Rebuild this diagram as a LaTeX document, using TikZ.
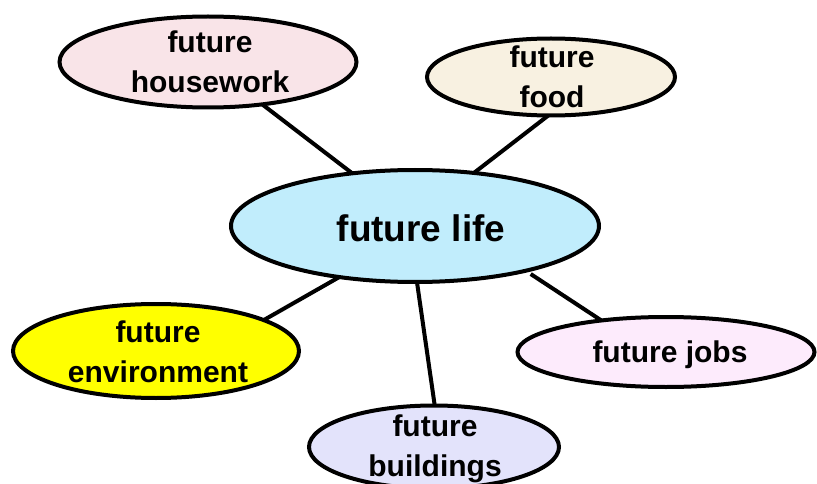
\documentclass[tikz,border=0pt]{standalone}
\usepackage{fontspec}
\setmainfont{Liberation Sans}
\usetikzlibrary{shapes.geometric}
\definecolor{cHw}{HTML}{F9E4E8}
\definecolor{cFood}{HTML}{F8F1E1}
\definecolor{cLife}{HTML}{C1EDFC}
\definecolor{cEnv}{HTML}{FFFF00}
\definecolor{cJobs}{HTML}{FDEBFC}
\definecolor{cBld}{HTML}{E3E3FB}
\begin{document}
\begin{tikzpicture}[x=1pt,y=-1pt,
  bub/.style={ellipse,draw=black,line width=4pt,inner sep=0pt,outer sep=0pt},
  lbl/.style={font=\fontsize{30}{40}\selectfont\bfseries,align=center,inner sep=0pt},
  link/.style={line width=4pt}]
\useasboundingbox (0,0) rectangle (817,484);
\clip (0,0) rectangle (817,484);
\fill[white] (0,0) rectangle (817,484);
\node[bub,fill=cLife,minimum width=368pt,minimum height=112pt] (c) at (415,226) {};
\node[bub,fill=cHw,minimum width=297pt,minimum height=91pt] (hw) at (208,62) {};
\node[bub,fill=cFood,minimum width=248pt,minimum height=77pt] (fd) at (551,77) {};
\node[bub,fill=cEnv,minimum width=286pt,minimum height=94pt] (env) at (156,351) {};
\node[bub,fill=cJobs,minimum width=297pt,minimum height=70pt] (jb) at (666,352) {};
\node[bub,fill=cBld,minimum width=250pt,minimum height=83pt] (bd) at (434,447) {};
\draw[link] (hw.-38) -- (c.140);
\draw[link] (fd.266) -- (c.42);
\draw[link] (env.16) -- (c.214);
\draw[link] (bd.89) -- (c.272);
\draw[link,shorten >=6pt] (jb.154) -- (c.338);
\node[lbl,font=\fontsize{37}{44}\selectfont\bfseries] (tc) at (421,228.5) {future life};
\node[lbl] (thw) at (210,62) {future\\housework};
\node[lbl] (tfd) at (552,77) {future\\food};
\node[lbl] (tenv) at (158,352) {future\\environment};
\node[lbl] (tbd) at (435,449) {future\\buildings};
\node[lbl] (tjb) at (670,355) {future jobs};
\end{tikzpicture}
\end{document}
